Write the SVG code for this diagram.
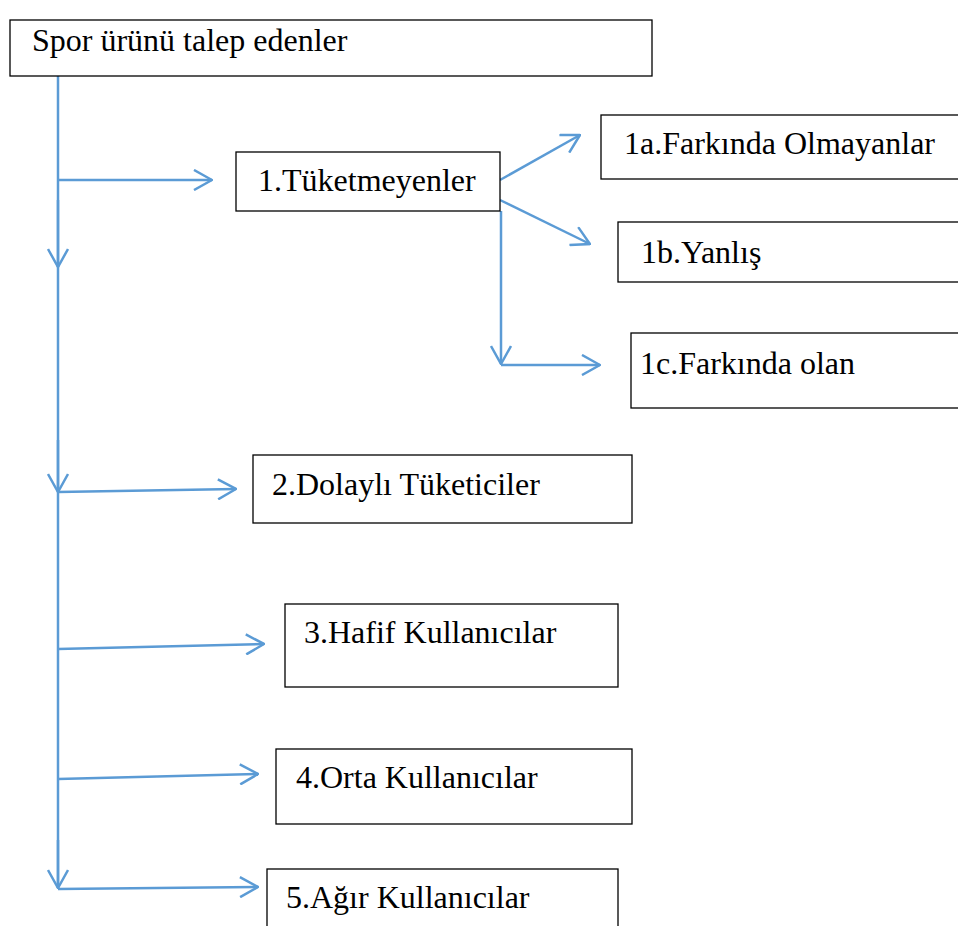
<svg xmlns="http://www.w3.org/2000/svg" width="958" height="926" viewBox="0 0 958 926">
<defs>
<marker id="ah" viewBox="0 0 20 22" refX="19" refY="11" markerWidth="20" markerHeight="22" markerUnits="userSpaceOnUse" orient="auto">
<path d="M1,1 L19,11 L1,21" fill="none" stroke="#5B9BD5" stroke-width="2.5"/>
</marker>
<style>
.box{fill:#fff;stroke:#000;stroke-width:1.3}
.t{font-family:"Liberation Serif","Times New Roman",serif;font-size:32px;fill:#000}
.c{fill:none;stroke:#5B9BD5;stroke-width:2.5}
</style>
</defs>
<rect width="958" height="926" fill="#fff"/>
<g id="connectors">
<path class="c" d="M58,76 V888"/>
<path class="c" d="M58,180 H212" marker-end="url(#ah)"/>
<path class="c" d="M58,200 V267" marker-end="url(#ah)"/>
<path class="c" d="M58,440 V492" marker-end="url(#ah)"/>
<path class="c" d="M58,840 V888" marker-end="url(#ah)"/>
<path class="c" d="M58,492 L236,489" marker-end="url(#ah)"/>
<path class="c" d="M58,649 L264,644" marker-end="url(#ah)"/>
<path class="c" d="M58,779 L258,774" marker-end="url(#ah)"/>
<path class="c" d="M58,889 L258,887" marker-end="url(#ah)"/>
<path class="c" d="M500,180 L580,135" marker-end="url(#ah)"/>
<path class="c" d="M500,200 L590,244" marker-end="url(#ah)"/>
<path class="c" d="M501,211 V364" marker-end="url(#ah)"/>
<path class="c" d="M501,365 H600" marker-end="url(#ah)"/>
</g>
<g id="n0"><rect class="box" x="10" y="20" width="642" height="56"/><text class="t" x="32" y="51">Spor ürünü talep edenler</text></g>
<g id="n1"><rect class="box" x="236" y="152" width="264" height="59"/><text class="t" x="258" y="191">1.Tüketmeyenler</text></g>
<g id="n1a"><rect class="box" x="601" y="115" width="370" height="64"/><text class="t" x="624" y="154">1a.Farkında Olmayanlar</text></g>
<g id="n1b"><rect class="box" x="618" y="222" width="360" height="60"/><text class="t" x="641" y="263">1b.Yanlış</text></g>
<g id="n1c"><rect class="box" x="631" y="333" width="340" height="75"/><text class="t" x="640" y="374">1c.Farkında olan</text></g>
<g id="n2"><rect class="box" x="253" y="455" width="379" height="68"/><text class="t" x="272" y="495">2.Dolaylı Tüketiciler</text></g>
<g id="n3"><rect class="box" x="285" y="604" width="333" height="83"/><text class="t" x="304" y="643">3.Hafif Kullanıcılar</text></g>
<g id="n4"><rect class="box" x="276" y="749" width="356" height="75"/><text class="t" x="296" y="788">4.Orta Kullanıcılar</text></g>
<g id="n5"><rect class="box" x="267" y="869" width="351" height="70"/><text class="t" x="286" y="908">5.Ağır Kullanıcılar</text></g>
</svg>
